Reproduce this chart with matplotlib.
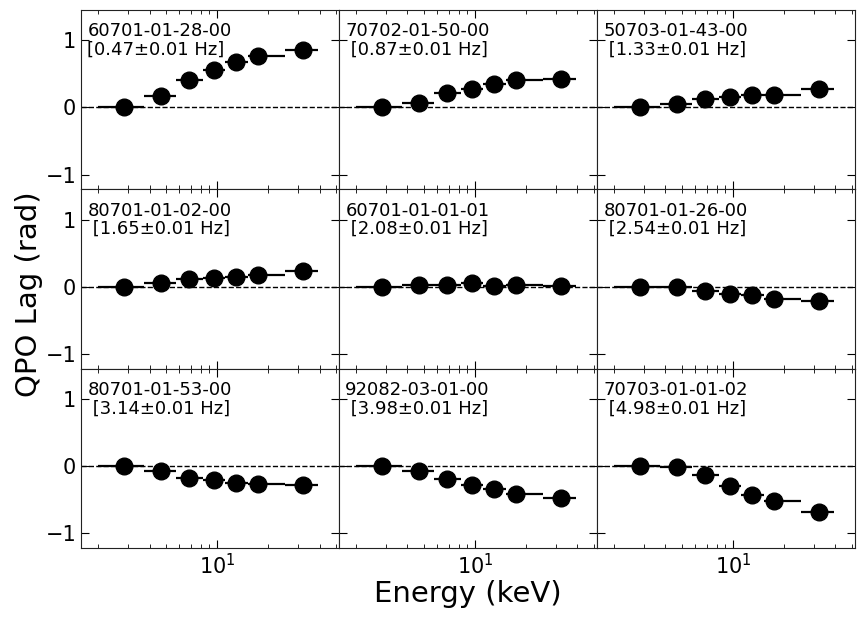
#!/usr/bin/env python3
"""QPO phase lag vs energy for nine observations (3x3 grid)."""
import matplotlib
matplotlib.use('Agg')
import matplotlib.pyplot as plt
import numpy as np

# energy bins (keV), shared by all panels
energy = [2.84, 4.68, 6.84, 9.6, 12.9, 17.4, 32.0]
e_lo = [2.0, 3.73, 5.74, 8.27, 11.1, 15.2, 25.1]
e_hi = [3.73, 5.74, 8.27, 11.1, 15.2, 25.1, 39.0]

obsids = ['60701-01-28-00', '70702-01-50-00', '50703-01-43-00',
          '80701-01-02-00', '60701-01-01-01', '80701-01-26-00',
          '80701-01-53-00', '92082-03-01-00', '70703-01-01-02']
freqs = ['0.47', '0.87', '1.33', '1.65', '2.08', '2.54', '3.14', '3.98', '4.98']

lags = [
    [0.0, 0.165, 0.40, 0.55, 0.675, 0.765, 0.85],
    [0.0, 0.07, 0.22, 0.28, 0.34, 0.40, 0.42],
    [0.0, 0.053, 0.117, 0.16, 0.19, 0.19, 0.27],
    [0.0, 0.05, 0.12, 0.13, 0.14, 0.18, 0.24],
    [0.0, 0.03, 0.02, 0.06, 0.01, 0.03, 0.01],
    [0.0, -0.01, -0.06, -0.11, -0.13, -0.18, -0.21],
    [0.0, -0.07, -0.17, -0.20, -0.25, -0.27, -0.28],
    [0.0, -0.07, -0.19, -0.28, -0.335, -0.42, -0.47],
    [0.0, -0.01, -0.13, -0.29, -0.43, -0.52, -0.68],
]

fig, axes = plt.subplots(3, 3, figsize=(8.66, 6.2), dpi=100,
                         sharex=True, sharey=True)
fig.subplots_adjust(left=0.0935, right=0.987, top=0.984, bottom=0.116,
                    hspace=0, wspace=0)

x = np.array(energy)
xerr = [x - np.array(e_lo), np.array(e_hi) - x]

for i, ax in enumerate(axes.flat):
    ax.axhline(0, color='black', linestyle='--', linewidth=1, zorder=1)
    ax.errorbar(x, lags[i], xerr=xerr, fmt='o', color='black',
                markersize=12, elinewidth=1.6, capsize=0, zorder=3)
    lead = '' if i == 0 else ' '
    ax.text(0.025, 0.93, f'{obsids[i]}\n{lead}[{freqs[i]}\u00b10.01 Hz]',
            transform=ax.transAxes, va='top', ha='left', fontsize=13,
            linespacing=1.0)
    ax.set_xscale('log')
    ax.tick_params(which='both', direction='in', top=True, right=True,
                   labelsize=15)
    ax.tick_params(which='major', length=6)
    ax.tick_params(which='minor', length=3)
    for sp in ax.spines.values():
        sp.set_color('#222222')

axes[0, 0].set_xlim(1.58, 52)
axes[0, 0].set_ylim(-1.22, 1.45)
axes[0, 0].set_yticks([-1, 0, 1])

fig.text(0.54, 0.042, 'Energy (keV)', ha='center', va='center', fontsize=21)
fig.text(0.034, 0.525, 'QPO Lag (rad)', ha='center', va='center',
         rotation=90, fontsize=21)

plt.savefig('out.png', dpi=100)
plt.close()
